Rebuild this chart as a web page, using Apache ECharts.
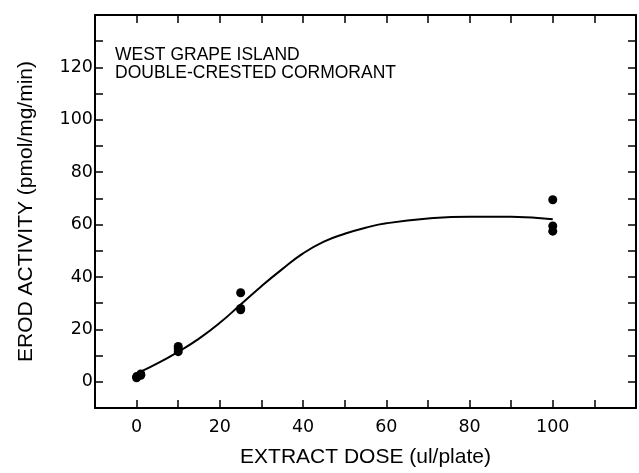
<!DOCTYPE html>
<html>
<head>
<meta charset="utf-8">
<script src="https://cdn.jsdelivr.net/npm/echarts@6/dist/echarts.min.js"></script>
<style>html,body{margin:0;padding:0;background:#fff}#c{width:639px;height:473px}</style>
</head>
<body>
<div id="c"></div>
<script>
// Measured points (dose, EROD activity)
const pointDose = [0, 0, 1, 1, 10, 10, 10, 25, 25, 25, 100, 100, 100];
const pointActivity = [1.5, 2, 2.5, 3, 11.5, 12.5, 13.5, 34, 27.5, 28, 69.5, 59.5, 57.5];
// Fitted curve
const curveDose = [0.5, 5, 10, 15, 20, 25, 30, 35, 40, 45, 50, 55, 60, 70, 80, 90, 100];
const curveActivity = [3.5, 7, 11.5, 16.5, 22.5, 29.5, 36.5, 43, 49, 53.5, 56.5, 58.8, 60.5, 62.3, 63, 63, 62];
const xTickLabels = [0, 20, 40, 60, 80, 100];
const yTickLabels = [0, 20, 40, 60, 80, 100, 120];
const annotation = ['WEST GRAPE ISLAND', 'DOUBLE-CRESTED CORMORANT'];

const font = 'DejaVu Sans';
const axisLine = {show: true, onZero: false, lineStyle: {color: '#000', width: 2}};
const tick = {show: true, inside: true, length: 8, lineStyle: {color: '#000', width: 1.5}};

const chart = echarts.init(document.getElementById('c'));
chart.setOption({
  animation: false,
  backgroundColor: '#fff',
  grid: {left: 95, right: 2, top: 15, bottom: 64},
  xAxis: [{
    type: 'value', min: -10, max: 120, interval: 10, position: 'bottom',
    axisLine: axisLine, axisTick: tick, splitLine: {show: false},
    axisLabel: {color: '#000', fontFamily: font, fontSize: 17.5, margin: 10,
      formatter: v => xTickLabels.includes(v) ? String(v) : ''},
    name: 'EXTRACT DOSE (ul/plate)', nameLocation: 'middle', nameGap: 39,
    nameTextStyle: {color: '#000', fontFamily: 'Liberation Sans', fontSize: 21}
  }, {
    type: 'value', min: -10, max: 120, interval: 10, position: 'top',
    axisLine: axisLine, axisTick: tick, splitLine: {show: false}, axisLabel: {show: false}
  }],
  yAxis: [{
    type: 'value', min: -10, max: 140, interval: 10, position: 'left',
    axisLine: axisLine, axisTick: tick, splitLine: {show: false},
    axisLabel: {color: '#000', fontFamily: font, fontSize: 17.5, margin: 2,
      formatter: v => yTickLabels.includes(v) ? String(v) : ''},
    name: 'EROD ACTIVITY (pmol/mg/min)', nameLocation: 'middle', nameGap: 58,
    nameTextStyle: {color: '#000', fontFamily: 'Liberation Sans', fontSize: 21}
  }, {
    type: 'value', min: -10, max: 140, interval: 10, position: 'right',
    axisLine: axisLine, axisTick: tick, splitLine: {show: false}, axisLabel: {show: false}
  }],
  graphic: [{
    type: 'text', left: 115, top: 46,
    style: {text: annotation.join('\n'), fill: '#000', font: '17.5px "Liberation Sans"', lineHeight: 18}
  }],
  series: [{
    type: 'line', xAxisIndex: 0, yAxisIndex: 0, smooth: true, showSymbol: false,
    lineStyle: {color: '#000', width: 2},
    data: curveDose.map((d, i) => [d, curveActivity[i]])
  }, {
    type: 'scatter', xAxisIndex: 0, yAxisIndex: 0, symbolSize: 9,
    itemStyle: {color: '#000', opacity: 1},
    data: pointDose.map((d, i) => [d, pointActivity[i]])
  }]
});
</script>
</body>
</html>
